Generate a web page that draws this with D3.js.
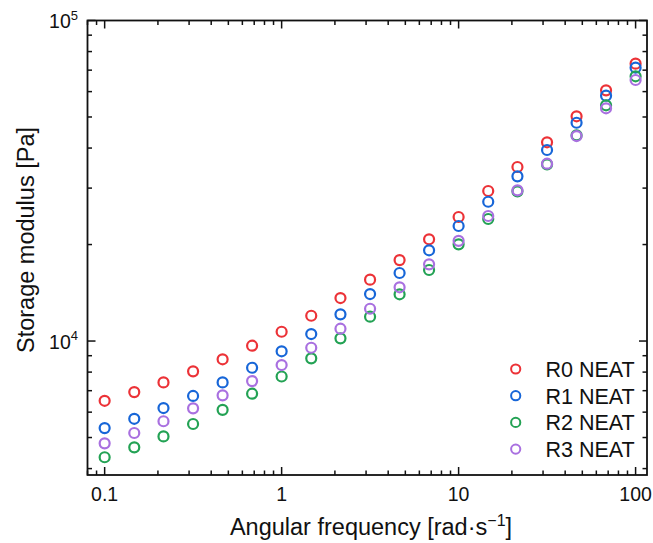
<!DOCTYPE html>
<html>
<head>
<meta charset="utf-8">
<script src="https://cdn.jsdelivr.net/npm/d3@7"></script>
<style>
  body { margin: 0; background: #fff; }
  text { font-family: "Liberation Sans", Arial, sans-serif; fill: #111; }
</style>
</head>
<body>
<div id="chart"></div>
<script>
var freq = [0.1, 0.147, 0.215, 0.316, 0.464, 0.681, 1, 1.47, 2.15, 3.16, 4.64, 6.81, 10, 14.7, 21.5, 31.6, 46.4, 68.1, 100];
var r0 = [6510, 6930, 7430, 8045, 8770, 9670, 10690, 11990, 13620, 15540, 17890, 20770, 24380, 29380, 34910, 41690, 50250, 60560, 73330];
var r1 = [5350, 5720, 6180, 6740, 7430, 8255, 9290, 10515, 12115, 14015, 16300, 19190, 22850, 27200, 32650, 39440, 47980, 58270, 71250];
var r2 = [4340, 4660, 5040, 5510, 6100, 6850, 7750, 8830, 10195, 11910, 13990, 16655, 20030, 24030, 29315, 35590, 43830, 54380, 66980];
var r3 = [4795, 5165, 5620, 6165, 6770, 7500, 8415, 9530, 10925, 12610, 14710, 17350, 20540, 24550, 29525, 35750, 43610, 53225, 65220];
var seriesNames = ["R0 NEAT", "R1 NEAT", "R2 NEAT", "R3 NEAT"];
var seriesColors = ["#ec3237", "#1766d8", "#23a254", "#a970e0"];
var xTicks = [0.1, 1, 10, 100];
var yTicks = [10000, 100000];

var width = 653, height = 543;
var pLeft = 87.5, pRight = 647, pTop = 20.5, pBottom = 475;

var svg = d3.select("#chart").append("svg")
  .attr("width", width)
  .attr("height", height);

var x = d3.scaleLog().domain([0.08, 116]).range([pLeft, pRight]);
var y = d3.scaleLog().domain([3820, 100000]).range([pBottom, pTop]);

// minor ticks
var xMinor = [];
[0.01, 0.1, 1, 10, 100].forEach(function (p) {
  for (var k = 2; k <= 9; k++) {
    var v = p * k;
    if (v >= 0.08 && v <= 116) xMinor.push(v);
  }
});
var yMinor = [];
[1000, 10000].forEach(function (p) {
  for (var k = 2; k <= 9; k++) {
    var v = p * k;
    if (v >= 3820 && v <= 100000) yMinor.push(v);
  }
});

var ticks = svg.append("g").attr("stroke", "#111").attr("stroke-width", 1.5);
function xTickLines(vals, len) {
  vals.forEach(function (v) {
    ticks.append("line").attr("x1", x(v)).attr("x2", x(v)).attr("y1", pBottom).attr("y2", pBottom - len);
    ticks.append("line").attr("x1", x(v)).attr("x2", x(v)).attr("y1", pTop).attr("y2", pTop + len);
  });
}
function yTickLines(vals, len) {
  vals.forEach(function (v) {
    ticks.append("line").attr("y1", y(v)).attr("y2", y(v)).attr("x1", pLeft).attr("x2", pLeft + len);
    ticks.append("line").attr("y1", y(v)).attr("y2", y(v)).attr("x1", pRight).attr("x2", pRight - len);
  });
}
xTickLines(xTicks, 8);
xTickLines(xMinor, 4.5);
yTickLines(yTicks, 8);
yTickLines(yMinor, 4.5);

svg.append("rect")
  .attr("x", pLeft).attr("y", pTop)
  .attr("width", pRight - pLeft).attr("height", pBottom - pTop)
  .attr("fill", "none").attr("stroke", "#111").attr("stroke-width", 1.8);

// tick labels
svg.selectAll(".xlab").data(xTicks).enter().append("text")
  .attr("class", "xlab")
  .attr("x", function (d) { return x(d); })
  .attr("y", 501)
  .attr("text-anchor", "middle")
  .attr("font-size", 19.5)
  .text(function (d) { return d3.format("")(d); });

var ylab = svg.selectAll(".ylab").data(yTicks).enter().append("text")
  .attr("class", "ylab")
  .attr("x", 78)
  .attr("y", function (d) { return y(d) + 7.5; })
  .attr("text-anchor", "end")
  .attr("font-size", 19.5);
ylab.append("tspan").text("10");
ylab.append("tspan").attr("dy", -8.5).attr("font-size", 13)
  .text(function (d) { return Math.round(Math.log10(d)); });

// axis titles
var xt = svg.append("text")
  .attr("x", 371).attr("y", 535)
  .attr("text-anchor", "middle")
  .attr("font-size", 23.5);
xt.append("tspan").text("Angular frequency [rad\u00b7s");
xt.append("tspan").attr("dy", -9.5).attr("font-size", 16).text("\u22121");
xt.append("tspan").attr("dy", 9.5).text("]");

svg.append("text")
  .attr("transform", "translate(34," + 240 + ") rotate(-90)")
  .attr("text-anchor", "middle")
  .attr("font-size", 23.5)
  .text("Storage modulus [Pa]");

// data
var allSeries = [r0, r1, r2, r3];
allSeries.forEach(function (vals, i) {
  svg.append("g").selectAll("circle").data(vals).enter().append("circle")
    .attr("cx", function (d, j) { return x(freq[j]); })
    .attr("cy", function (d) { return y(d); })
    .attr("r", 5)
    .attr("fill", "none")
    .attr("stroke", seriesColors[i])
    .attr("stroke-width", 2.2);
});

// legend
var legend = svg.append("g");
seriesNames.forEach(function (name, i) {
  var ly = 369 + i * 26.7;
  legend.append("circle")
    .attr("cx", 515.7).attr("cy", ly).attr("r", 4.6)
    .attr("fill", "none").attr("stroke", seriesColors[i]).attr("stroke-width", 2);
  legend.append("text")
    .attr("x", 545.5).attr("y", ly + 8)
    .attr("font-size", 21.5)
    .text(name);
});
</script>
</body>
</html>
